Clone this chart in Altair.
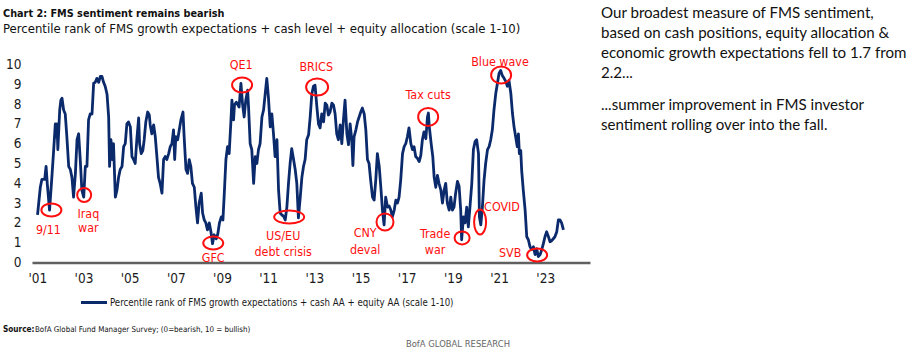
import altair as alt
import pandas as pd

# ---------------- data ----------------
years = [
    2001.01, 2001.13, 2001.20, 2001.32, 2001.38, 2001.43, 2001.53, 2001.63, 2001.71, 2001.78,
    2001.82, 2001.85, 2001.89, 2001.97, 2002.02, 2002.07, 2002.14, 2002.21, 2002.28, 2002.36,
    2002.43, 2002.50, 2002.57, 2002.65, 2002.72, 2002.79, 2002.86, 2002.93, 2003.01, 2003.08,
    2003.15, 2003.22, 2003.29, 2003.37, 2003.44, 2003.51, 2003.58, 2003.66, 2003.73, 2003.80,
    2003.87, 2003.94, 2004.02, 2004.09, 2004.13, 2004.19, 2004.25, 2004.30, 2004.38, 2004.45,
    2004.52, 2004.59, 2004.67, 2004.74, 2004.81, 2004.88, 2004.95, 2005.03, 2005.10, 2005.17,
    2005.24, 2005.31, 2005.39, 2005.43, 2005.50, 2005.57, 2005.63, 2005.70, 2005.78, 2005.85,
    2005.89, 2005.96, 2006.04, 2006.11, 2006.18, 2006.25, 2006.32, 2006.40, 2006.47, 2006.54,
    2006.61, 2006.69, 2006.76, 2006.83, 2006.90, 2006.95, 2007.00, 2007.08, 2007.15, 2007.22,
    2007.31, 2007.36, 2007.44, 2007.51, 2007.58, 2007.65, 2007.72, 2007.80, 2007.87, 2007.94,
    2008.01, 2008.10, 2008.16, 2008.23, 2008.30, 2008.37, 2008.45, 2008.52, 2008.59, 2008.66,
    2008.75, 2008.82, 2008.89, 2008.97, 2009.04, 2009.10, 2009.17, 2009.24, 2009.31, 2009.38,
    2009.43, 2009.50, 2009.54, 2009.62, 2009.67, 2009.74, 2009.82, 2009.89, 2009.96, 2010.03,
    2010.11, 2010.15, 2010.22, 2010.29, 2010.37, 2010.44, 2010.51, 2010.58, 2010.65, 2010.73,
    2010.80, 2010.87, 2010.94, 2011.01, 2011.09, 2011.16, 2011.23, 2011.30, 2011.38, 2011.45,
    2011.52, 2011.59, 2011.66, 2011.74, 2011.81, 2011.88, 2011.95, 2012.02, 2012.10, 2012.17,
    2012.24, 2012.31, 2012.39, 2012.46, 2012.53, 2012.60, 2012.67, 2012.75, 2012.82, 2012.89,
    2012.96, 2013.03, 2013.11, 2013.18, 2013.25, 2013.32, 2013.40, 2013.47, 2013.54, 2013.61,
    2013.68, 2013.76, 2013.83, 2013.90, 2013.97, 2014.04, 2014.12, 2014.19, 2014.26, 2014.33,
    2014.41, 2014.48, 2014.55, 2014.62, 2014.67, 2014.72, 2014.80, 2014.87, 2014.94, 2015.01,
    2015.08, 2015.16, 2015.23, 2015.30, 2015.37, 2015.44, 2015.52, 2015.59, 2015.66, 2015.73,
    2015.81, 2015.88, 2015.95, 2016.02, 2016.09, 2016.17, 2016.24, 2016.31, 2016.38, 2016.46,
    2016.53, 2016.60, 2016.67, 2016.74, 2016.82, 2016.89, 2016.96, 2017.03, 2017.10, 2017.18,
    2017.25, 2017.32, 2017.39, 2017.47, 2017.54, 2017.61, 2017.68, 2017.75, 2017.83, 2017.90,
    2017.94, 2017.98, 2018.06, 2018.13, 2018.19, 2018.26, 2018.33, 2018.40, 2018.48, 2018.55,
    2018.62, 2018.69, 2018.76, 2018.84, 2018.91, 2018.98, 2019.05, 2019.12, 2019.20, 2019.27,
    2019.34, 2019.38, 2019.46, 2019.53, 2019.60, 2019.67, 2019.74, 2019.82, 2019.89, 2019.96,
    2020.03, 2020.11, 2020.15, 2020.21, 2020.28, 2020.35, 2020.42, 2020.50, 2020.57, 2020.64,
    2020.71, 2020.78, 2020.86, 2020.93, 2021.00, 2021.07, 2021.14, 2021.22, 2021.29, 2021.36,
    2021.43, 2021.51, 2021.58, 2021.65, 2021.72, 2021.79, 2021.84, 2021.88, 2021.94, 2021.98,
    2022.05, 2022.13, 2022.20, 2022.27, 2022.34, 2022.41, 2022.49, 2022.56, 2022.63, 2022.70,
    2022.78, 2022.85, 2022.92, 2022.99, 2023.06, 2023.14, 2023.21, 2023.28, 2023.35, 2023.42,
    2023.50, 2023.57, 2023.64, 2023.71, 2023.79,
]
values = [
    2.40, 3.80, 4.20, 4.20, 4.85, 4.00, 2.65, 4.30, 5.70, 7.00,
    6.35, 7.00, 5.70, 7.70, 8.20, 8.30, 7.70, 7.50, 6.35, 4.85,
    4.70, 4.30, 3.30, 4.50, 6.20, 6.50, 5.20, 3.65, 3.30, 4.85,
    4.85, 7.20, 7.50, 7.50, 9.05, 9.10, 9.30, 9.10, 9.40, 9.40,
    9.10, 8.90, 8.50, 7.35, 4.85, 6.20, 5.20, 6.00, 3.30, 3.65,
    4.30, 4.70, 4.85, 5.85, 6.00, 7.00, 7.10, 6.85, 5.35, 5.20,
    5.00, 6.20, 7.30, 6.00, 5.50, 5.65, 6.20, 7.10, 7.60, 7.45,
    6.95, 6.50, 6.95, 6.35, 5.35, 4.30, 4.00, 3.50, 5.20, 5.35,
    5.20, 5.50, 5.85, 6.00, 6.70, 5.20, 6.35, 6.20, 6.70, 7.20,
    7.60, 6.35, 4.70, 4.50, 5.20, 4.85, 4.00, 3.80, 2.80, 2.00,
    3.00, 3.50, 2.50, 2.15, 2.00, 1.65, 2.00, 1.55, 0.95, 1.40,
    1.20, 1.45, 2.00, 2.30, 2.15, 3.50, 5.20, 5.85, 5.50, 7.00,
    8.20, 7.20, 7.95, 8.10, 8.00, 7.85, 9.05, 8.00, 7.35, 8.20,
    8.70, 7.85, 6.00, 5.70, 4.00, 5.35, 5.00, 5.70, 6.00, 7.35,
    7.70, 8.50, 9.30, 8.35, 6.85, 7.50, 6.50, 5.35, 6.20, 3.65,
    2.50, 2.40, 2.35, 2.15, 2.80, 4.00, 5.00, 5.75, 5.20, 4.70,
    4.00, 2.25, 3.30, 4.30, 4.85, 5.20, 6.20, 6.45, 7.35, 8.50,
    8.90, 8.95, 7.85, 7.00, 6.80, 7.50, 7.10, 8.05, 7.95, 7.45,
    7.60, 8.05, 7.95, 7.50, 6.50, 6.20, 6.95, 6.00, 7.20, 8.20,
    6.50, 5.95, 7.00, 6.20, 4.90, 6.35, 6.70, 7.10, 7.35, 7.60,
    7.80, 7.50, 6.70, 5.20, 5.00, 4.15, 3.30, 3.15, 4.15, 5.50,
    4.85, 3.80, 2.65, 1.90, 3.30, 2.80, 2.85, 2.65, 2.30, 2.65,
    3.15, 3.00, 3.30, 4.15, 5.50, 5.85, 6.00, 6.35, 6.80, 6.00,
    5.70, 5.85, 5.35, 5.25, 5.10, 5.40, 6.20, 6.60, 6.25, 7.35,
    7.55, 6.85, 6.00, 5.35, 4.30, 3.80, 4.40, 4.00, 3.65, 3.00,
    3.65, 4.00, 3.00, 2.65, 3.30, 2.65, 2.80, 3.50, 4.10, 3.85,
    2.65, 1.15, 2.30, 2.00, 2.80, 1.80, 2.80, 4.00, 5.70, 6.10,
    6.20, 5.50, 2.30, 1.90, 2.80, 4.15, 5.00, 5.70, 5.85, 6.20,
    6.70, 7.70, 8.55, 9.05, 9.55, 9.70, 9.45, 9.30, 9.15, 8.90,
    9.20, 8.55, 7.55, 6.85, 6.35, 5.85, 6.50, 5.50, 5.65, 4.65,
    3.65, 2.65, 1.30, 1.15, 0.80, 0.65, 0.80, 0.40, 0.70, 0.30,
    0.40, 0.65, 0.95, 1.30, 1.55, 1.30, 1.05, 1.10, 1.20, 1.30,
    1.55, 2.15, 2.15, 2.00, 1.65,
]
series_name = "Percentile rank of FMS growth expectations + cash AA + equity AA (scale 1-10)"

# event rings (centre in data units, ring size in px)
event_names = ["9/11", "Iraq war", "GFC", "QE1", "US/EU debt crisis", "BRICS",
               "CNY deval", "Tax cuts", "Trade war", "COVID", "Blue wave", "SVB"]
event_year = [2001.61, 2003.03, 2008.62, 2009.87, 2011.91, 2013.12,
              2016.06, 2017.93, 2019.40, 2020.18, 2021.09, 2022.65]
event_value = [2.65, 3.41, 0.98, 8.96, 2.30, 8.86, 2.05, 7.35, 1.24, 2.05, 9.47, 0.38]
ring_w = [20, 14, 20, 20, 30, 22, 17, 20, 15, 12, 20, 20]
ring_h = [13, 14, 13, 15, 13, 17, 17, 18, 13, 25, 17, 13]

# event label lines
label_text = ["9/11", "Iraq", "war", "GFC", "QE1", "US/EU", "debt crisis", "BRICS",
              "CNY", "deval", "Tax cuts", "Trade", "war", "COVID", "Blue wave", "SVB"]
label_year = [2001.48, 2003.21, 2003.21, 2008.62, 2009.83, 2011.65, 2011.65, 2013.08,
              2015.20, 2015.20, 2017.93, 2018.23, 2018.23, 2021.13, 2021.04, 2021.48]
label_value = [1.64, 2.45, 1.74, 0.23, 9.97, 1.34, 0.53, 9.87,
               1.49, 0.63, 8.46, 1.44, 0.63, 2.80, 10.13, 0.48]

x_ticks = list(range(2001, 2024, 2))
y_ticks = list(range(0, 11))

title_text = "Chart 2: FMS sentiment remains bearish"
subtitle_text = "Percentile rank of FMS growth expectations + cash level + equity allocation (scale 1-10)"
note_1 = ["Our broadest measure of FMS sentiment,",
          "based on cash positions, equity allocation &",
          "economic growth expectations fell to 1.7 from",
          "2.2..."]
note_2 = ["...summer improvement in FMS investor",
          "sentiment rolling over into the fall."]
source_bold = "Source:"
source_text = "BofA Global Fund Manager Survey; (0=bearish, 10 = bullish)"
footer_text = "BofA GLOBAL RESEARCH"

# ---------------- styling ----------------
NAVY = "#0b2a6c"
RED = "#ff0f0f"
NARROW = "DejaVu Sans Condensed, Liberation Sans, sans-serif"
NOTE_FONT = "Lato, Noto Sans, sans-serif"

W, H = 558, 198
PAD_L, PAD_T = 32, 64.5

df = pd.DataFrame({"year": years, "value": values, "series": series_name})


def ring_path(w, h):
    k = h / w
    return f"M -1 0 A 1 {k:.3f} 0 1 1 1 0 A 1 {k:.3f} 0 1 1 -1 0 Z"


rings = pd.DataFrame({
    "event": event_names,
    "year": event_year,
    "value": event_value,
    "path": [ring_path(w, h) for w, h in zip(ring_w, ring_h)],
    "size": [w * w for w in ring_w],
})
labels = pd.DataFrame({"label": label_text, "year": label_year, "value": label_value})

x_enc = alt.X(
    "year:Q",
    scale=alt.Scale(domain=[2000.77, 2024.94], nice=False, zero=False),
    axis=alt.Axis(
        values=x_ticks,
        labelExpr="\"'\" + substring(toString(datum.value), 2, 4)",
        title=None, grid=False, ticks=False, tickSize=0,
        domainColor="#606060", domainWidth=2.6,
        labelPadding=9, labelFont=NARROW, labelFontSize=13.5, labelColor="#1a1a1a",
        labelOverlap=False, labelFlush=False,
    ),
)
y_enc = alt.Y(
    "value:Q",
    scale=alt.Scale(domain=[0, 10], nice=False),
    axis=alt.Axis(
        values=y_ticks, title=None, grid=False, ticks=False, tickSize=0, domain=False,
        labelPadding=11, labelFont=NARROW, labelFontSize=13.5, labelColor="#1a1a1a",
    ),
)

line = alt.Chart(df).mark_line(strokeWidth=2.8, strokeJoin="round").encode(
    x=x_enc,
    y=y_enc,
    color=alt.Color(
        "series:N",
        scale=alt.Scale(range=[NAVY]),
        legend=alt.Legend(
            title=None, orient="none", legendX=47, legendY=223,
            symbolType="stroke", symbolStrokeWidth=3, symbolSize=680,
            labelFont=NARROW, labelFontSize=9.6, labelColor="#1a1a1a",
            labelLimit=700, padding=0, labelOffset=1,
        ),
    ),
)

ring_layer = alt.Chart(rings).mark_point(filled=False, color=RED, strokeWidth=2, opacity=1).encode(
    x=x_enc,
    y=y_enc,
    shape=alt.Shape("path:N", scale=None),
    size=alt.Size("size:Q", scale=None),
)

label_layer = alt.Chart(labels).mark_text(
    color=RED, font=NARROW, fontSize=12.4, align="center", baseline="middle"
).encode(x=x_enc, y=y_enc, text="label:N")

one = pd.DataFrame({"k": [0]})


def fixed_text(text, x, y, **kw):
    return alt.Chart(one).mark_text(text=text, **kw).encode(x=alt.value(x), y=alt.value(y))


title_layer = fixed_text(title_text, 3 - PAD_L, 16.5 - PAD_T, font=NARROW, fontSize=10.8,
                         fontWeight="bold", color="#111111", align="left", baseline="alphabetic")
subtitle_layer = fixed_text(subtitle_text, 3 - PAD_L, 32.5 - PAD_T, font=NARROW, fontSize=13,
                            color="#111111", align="left", baseline="alphabetic")
note_layer_1 = fixed_text(note_1, 601 - PAD_L, 17.5 - PAD_T, font=NOTE_FONT, fontSize=15.1,
                          lineHeight=20, color="#111111", align="left", baseline="alphabetic")
note_layer_2 = fixed_text(note_2, 601 - PAD_L, 110 - PAD_T, font=NOTE_FONT, fontSize=15.1,
                          lineHeight=20, color="#111111", align="left", baseline="alphabetic")
source_b_layer = fixed_text(source_bold, 3 - PAD_L, 332 - PAD_T, font=NARROW, fontSize=8.2,
                            fontWeight="bold", color="#111111", align="left", baseline="alphabetic")
source_layer = fixed_text(source_text, 35 - PAD_L, 332 - PAD_T, font=NARROW, fontSize=7.9,
                          color="#111111", align="left", baseline="alphabetic")
footer_layer = fixed_text(footer_text, 510 - PAD_L, 346.5 - PAD_T, font=NARROW, fontSize=9.4,
                          color="#666666", align="right", baseline="alphabetic")

chart = alt.layer(
    line, ring_layer, label_layer,
    title_layer, subtitle_layer, note_layer_1, note_layer_2,
    source_b_layer, source_layer, footer_layer,
).properties(
    width=W, height=H,
    autosize=alt.AutoSizeParams(type="none"),
    padding={"left": PAD_L, "top": PAD_T, "right": 919 - PAD_L - W, "bottom": 352 - PAD_T - H},
    background="white",
).configure_view(stroke=None)

chart.save("out.html", embed_options={"renderer": "svg", "actions": False})
